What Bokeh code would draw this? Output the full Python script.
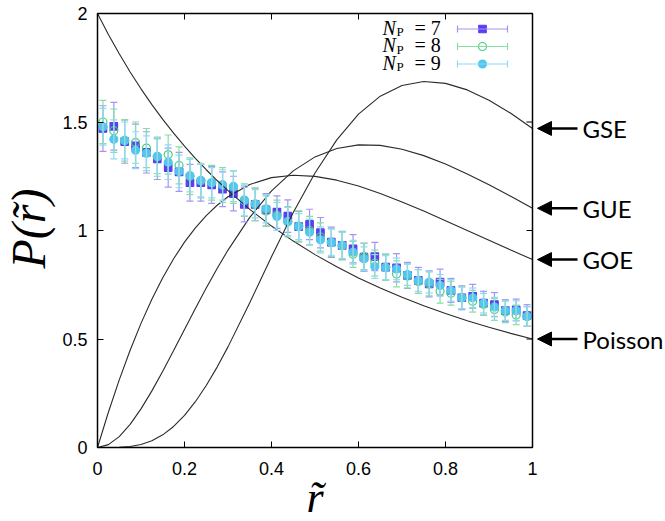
from math import pi
from bokeh.plotting import figure
from bokeh.models import (ColumnDataSource, Whisker, TeeHead, Label, Arrow, NormalHead,
                          FixedTicker, BoxAnnotation, Range1d)
from bokeh.embed import file_html
from bokeh.resources import INLINE

# ---------------- data ----------------
r_bins = [0.0125, 0.0375, 0.0625, 0.0875, 0.1125, 0.1375, 0.1625, 0.1875, 0.2125, 0.2375,
          0.2625, 0.2875, 0.3125, 0.3375, 0.3625, 0.3875, 0.4125, 0.4375, 0.4625, 0.4875,
          0.5125, 0.5375, 0.5625, 0.5875, 0.6125, 0.6375, 0.6625, 0.6875, 0.7125, 0.7375,
          0.7625, 0.7875, 0.8125, 0.8375, 0.8625, 0.8875, 0.9125, 0.9375, 0.9625, 0.9875]

p_np7 = [1.47, 1.48, 1.41, 1.39, 1.36, 1.33, 1.29, 1.27, 1.22, 1.22,
         1.21, 1.19, 1.17, 1.12, 1.12, 1.095, 1.085, 1.066, 1.018, 1.028,
         0.99, 0.946, 0.931, 0.916, 0.877, 0.88, 0.831, 0.828, 0.793, 0.77,
         0.754, 0.762, 0.724, 0.69, 0.697, 0.665, 0.659, 0.631, 0.634, 0.608]
err_np7 = [0.105, 0.11, 0.10, 0.10, 0.095, 0.095, 0.09, 0.09, 0.085, 0.085,
           0.085, 0.08, 0.08, 0.08, 0.075, 0.075, 0.075, 0.075, 0.07, 0.07,
           0.07, 0.07, 0.065, 0.065, 0.065, 0.065, 0.06, 0.065, 0.06, 0.06,
           0.06, 0.06, 0.055, 0.055, 0.055, 0.055, 0.055, 0.05, 0.05, 0.05]

p_np8 = [1.50, 1.46, 1.415, 1.405, 1.38, 1.34, 1.35, 1.30, 1.25, 1.23,
         1.22, 1.21, 1.20, 1.14, 1.12, 1.09, 1.07, 1.04, 1.02, 1.00,
         0.97, 0.945, 0.93, 0.89, 0.88, 0.85, 0.83, 0.80, 0.79, 0.765,
         0.754, 0.72, 0.711, 0.69, 0.674, 0.66, 0.636, 0.625, 0.611, 0.604]
err_np8 = [0.10, 0.10, 0.095, 0.095, 0.09, 0.09, 0.09, 0.085, 0.085, 0.08,
           0.08, 0.08, 0.075, 0.075, 0.075, 0.07, 0.07, 0.07, 0.07, 0.065,
           0.065, 0.065, 0.065, 0.06, 0.06, 0.06, 0.06, 0.06, 0.055, 0.055,
           0.055, 0.055, 0.055, 0.05, 0.05, 0.05, 0.05, 0.05, 0.045, 0.045]

p_np9 = [1.478, 1.42, 1.415, 1.37, 1.356, 1.342, 1.315, 1.272, 1.253, 1.23,
         1.22, 1.21, 1.203, 1.138, 1.123, 1.10, 1.065, 1.041, 1.018, 0.992,
         0.957, 0.946, 0.931, 0.90, 0.87, 0.834, 0.829, 0.823, 0.797, 0.77,
         0.762, 0.747, 0.724, 0.69, 0.69, 0.665, 0.647, 0.631, 0.631, 0.604]
err_np9 = [0.085, 0.09, 0.085, 0.085, 0.08, 0.08, 0.08, 0.075, 0.075, 0.075,
           0.07, 0.07, 0.07, 0.07, 0.065, 0.065, 0.065, 0.065, 0.06, 0.06,
           0.06, 0.06, 0.06, 0.055, 0.055, 0.055, 0.055, 0.05, 0.05, 0.05,
           0.05, 0.05, 0.05, 0.05, 0.045, 0.045, 0.045, 0.045, 0.045, 0.045]

r_theory = [0.0, 0.025, 0.05, 0.075, 0.1, 0.125, 0.15, 0.175, 0.2, 0.225, 0.25, 0.275,
            0.3, 0.35, 0.4, 0.45, 0.5, 0.55, 0.6, 0.65, 0.7, 0.75, 0.8, 0.85, 0.9, 0.95, 1.0]
p_poisson = [2.0, 1.9036, 1.8141, 1.7307, 1.6529, 1.5802, 1.5123, 1.4486, 1.3889, 1.3328,
             1.28, 1.2303, 1.1834, 1.0974, 1.0204, 0.9512, 0.8889, 0.8325, 0.7813, 0.7346,
             0.692, 0.6531, 0.6173, 0.5844, 0.554, 0.526, 0.5]
p_goe = [0.0, 0.1624, 0.3118, 0.4483, 0.572, 0.6831, 0.7822, 0.8697, 0.9462, 1.0123,
         1.0688, 1.1164, 1.1557, 1.2122, 1.2436, 1.2547, 1.2496, 1.232, 1.2049, 1.1708,
         1.1317, 1.0894, 1.0452, 1.0, 0.9547, 0.9099, 0.866]
p_gue = [0.0, 0.0133, 0.0502, 0.1064, 0.178, 0.2609, 0.3516, 0.4469, 0.544, 0.6406,
         0.7348, 0.8249, 0.9098, 1.0604, 1.1824, 1.2749, 1.3392, 1.3779, 1.3944, 1.3921,
         1.3746, 1.3451, 1.3063, 1.2607, 1.2106, 1.1574, 1.1027]
p_gse = [0.0, 0.0001, 0.0011, 0.0049, 0.0142, 0.0313, 0.0584, 0.097, 0.1479, 0.211,
         0.2856, 0.3705, 0.4637, 0.6673, 0.879, 1.0825, 1.265, 1.4177, 1.536, 1.6189,
         1.6679, 1.6863, 1.6781, 1.648, 1.6006, 1.5401, 1.4702]
curve_names = ["Poisson", "GOE", "GUE", "GSE"]

xtick_vals = [0, 0.2, 0.4, 0.6, 0.8, 1]
xtick_labels = ["0", "0.2", "0.4", "0.6", "0.8", "1"]
ytick_vals = [0, 0.5, 1, 1.5, 2]
ytick_labels = ["0", "0.5", "1", "1.5", "2"]
legend_np = ["7", "8", "9"]

# ---------------- layout (pixel geometry of the picture) ----------------
W, H = 665, 521
BL, BR, BT, BB = 97, 532, 13, 447      # axes box edges in px
X0, X1, Y0, Y1 = 0.0, 1.0, 0.0, 2.0     # data limits of the box
SX = (BR - BL) / (X1 - X0)
SY = (BB - BT) / (Y1 - Y0)


def dx(px):
    return X0 + (px - BL) / SX


def dy(py):
    return Y0 + (BB - py) / SY


p = figure(width=W, height=H, x_range=Range1d(dx(0), dx(W)), y_range=Range1d(dy(H), dy(0)),
           output_backend="svg", toolbar_location=None, min_border=0, title=None)
p.background_fill_color = "white"
p.border_fill_color = "white"
p.outline_line_color = None
p.grid.visible = False

for ax, vals, labs, standoff, loc in ((p.xaxis[0], xtick_vals, xtick_labels, 14, Y0),
                                      (p.yaxis[0], ytick_vals, ytick_labels, 10, X0)):
    ax.fixed_location = loc
    ax.ticker = FixedTicker(ticks=vals)
    ax.major_label_overrides = {v: l for v, l in zip(vals, labs)}
    ax.axis_line_color = None
    ax.major_tick_in = 6
    ax.major_tick_out = 0
    ax.major_tick_line_color = "black"
    ax.major_tick_line_width = 1
    ax.minor_tick_line_color = None
    ax.major_label_text_font = "Liberation Sans"
    ax.major_label_text_font_size = "18px"
    ax.major_label_text_color = "black"
    ax.major_label_standoff = standoff

# mirror ticks on top and right edges
p.segment(x0=xtick_vals, y0=[Y1] * len(xtick_vals), x1=xtick_vals,
          y1=[Y1 - 6 / SY] * len(xtick_vals), line_color="black", line_width=1)
p.segment(x0=[X1] * len(ytick_vals), y0=ytick_vals, x1=[X1 - 6 / SX] * len(ytick_vals),
          y1=ytick_vals, line_color="black", line_width=1)

# ---------------- data series ----------------
series = [
    (p_np7, err_np7, "square", "#5a3ff0", "#5a3ff0", "#a394f6", 7.5),
    (p_np8, err_np8, "circle", None, "#45cf78", "#86dea2", 8),
    (p_np9, err_np9, "circle", "#52c7ee", "#52c7ee", "#8fdaf3", 8),
]
for vals, errs, marker, fill, line, ecol, size in series:
    src = ColumnDataSource(dict(x=r_bins, y=vals,
                                lo=[v - e for v, e in zip(vals, errs)],
                                hi=[v + e for v, e in zip(vals, errs)]))
    wh = Whisker(base="x", lower="lo", upper="hi", source=src, line_color=ecol, line_width=1.2,
                 upper_head=TeeHead(size=7, line_color=ecol, line_width=1.2),
                 lower_head=TeeHead(size=7, line_color=ecol, line_width=1.2))
    wh.level = "glyph"
    p.add_layout(wh)
    p.scatter("x", "y", source=src, marker=marker, size=size,
              fill_color=fill, line_color=line, line_width=1.2)

# ---------------- theory curves ----------------
curves = [p_poisson, p_goe, p_gue, p_gse]
for c in curves:
    p.line(r_theory, c, line_color="#2a2a2a", line_width=1.1)

# axes box
p.add_layout(BoxAnnotation(left=X0, right=X1, bottom=Y0, top=Y1, fill_alpha=0,
                           line_color="black", line_width=1.5, line_alpha=1))

# arrows + names on the right
for name, c in zip(curve_names, curves):
    yv = c[-1]
    p.add_layout(Arrow(end=NormalHead(size=14, fill_color="black", line_color="black", line_width=1),
                       x_start=dx(577), y_start=yv, x_end=dx(537), y_end=yv,
                       line_color="black", line_width=2.5))
    p.add_layout(Label(x=dx(582), y=yv, text=name, text_font="Lato", text_font_size="24px",
                       text_color="black", text_align="left", text_baseline="middle"))

# ---------------- legend ----------------
rows = [28.5, 46, 63.5]
for (vals, errs, marker, fill, line, ecol, size), npv, ry in zip(series, legend_np, rows):
    ls = ColumnDataSource(dict(y=[dy(ry)], lo=[dx(457)], hi=[dx(507)], x=[dx(482)]))
    wl = Whisker(dimension="width", base="y", lower="lo", upper="hi", source=ls,
                 line_color=ecol, line_width=1.2,
                 upper_head=TeeHead(size=7, line_color=ecol, line_width=1.2),
                 lower_head=TeeHead(size=7, line_color=ecol, line_width=1.2))
    wl.level = "glyph"
    p.add_layout(wl)
    p.scatter("x", "y", source=ls, marker=marker, size=size,
              fill_color=fill, line_color=line, line_width=1.2)
    p.add_layout(Label(x=dx(382), y=dy(ry - 1.5), text="N", text_font="Liberation Serif",
                       text_font_style="italic", text_font_size="20px", text_color="black",
                       text_align="left", text_baseline="middle"))
    p.add_layout(Label(x=dx(396), y=dy(ry + 2.5), text="P", text_font="Liberation Serif",
                       text_font_size="13px", text_color="black",
                       text_align="left", text_baseline="middle"))
    p.add_layout(Label(x=dx(414), y=dy(ry - 1.5), text="= " + npv, text_font="Liberation Serif",
                       text_font_size="20px", text_color="black",
                       text_align="left", text_baseline="middle"))

# ---------------- axis titles ----------------
p.add_layout(Label(x=dx((BL + BR) / 2), y=dy(496.5), text="r\u0303", text_font="Liberation Serif",
                   text_font_style="italic", text_font_size="44px", text_color="black",
                   text_align="center", text_baseline="middle"))
p.add_layout(Label(x=dx(28), y=dy(228), text="P(r\u0303)", angle=pi / 2,
                   text_font="Liberation Serif", text_font_style="italic", text_font_size="48px",
                   text_color="black", text_align="center", text_baseline="middle"))

open("out.html", "w").write(file_html(p, INLINE))
